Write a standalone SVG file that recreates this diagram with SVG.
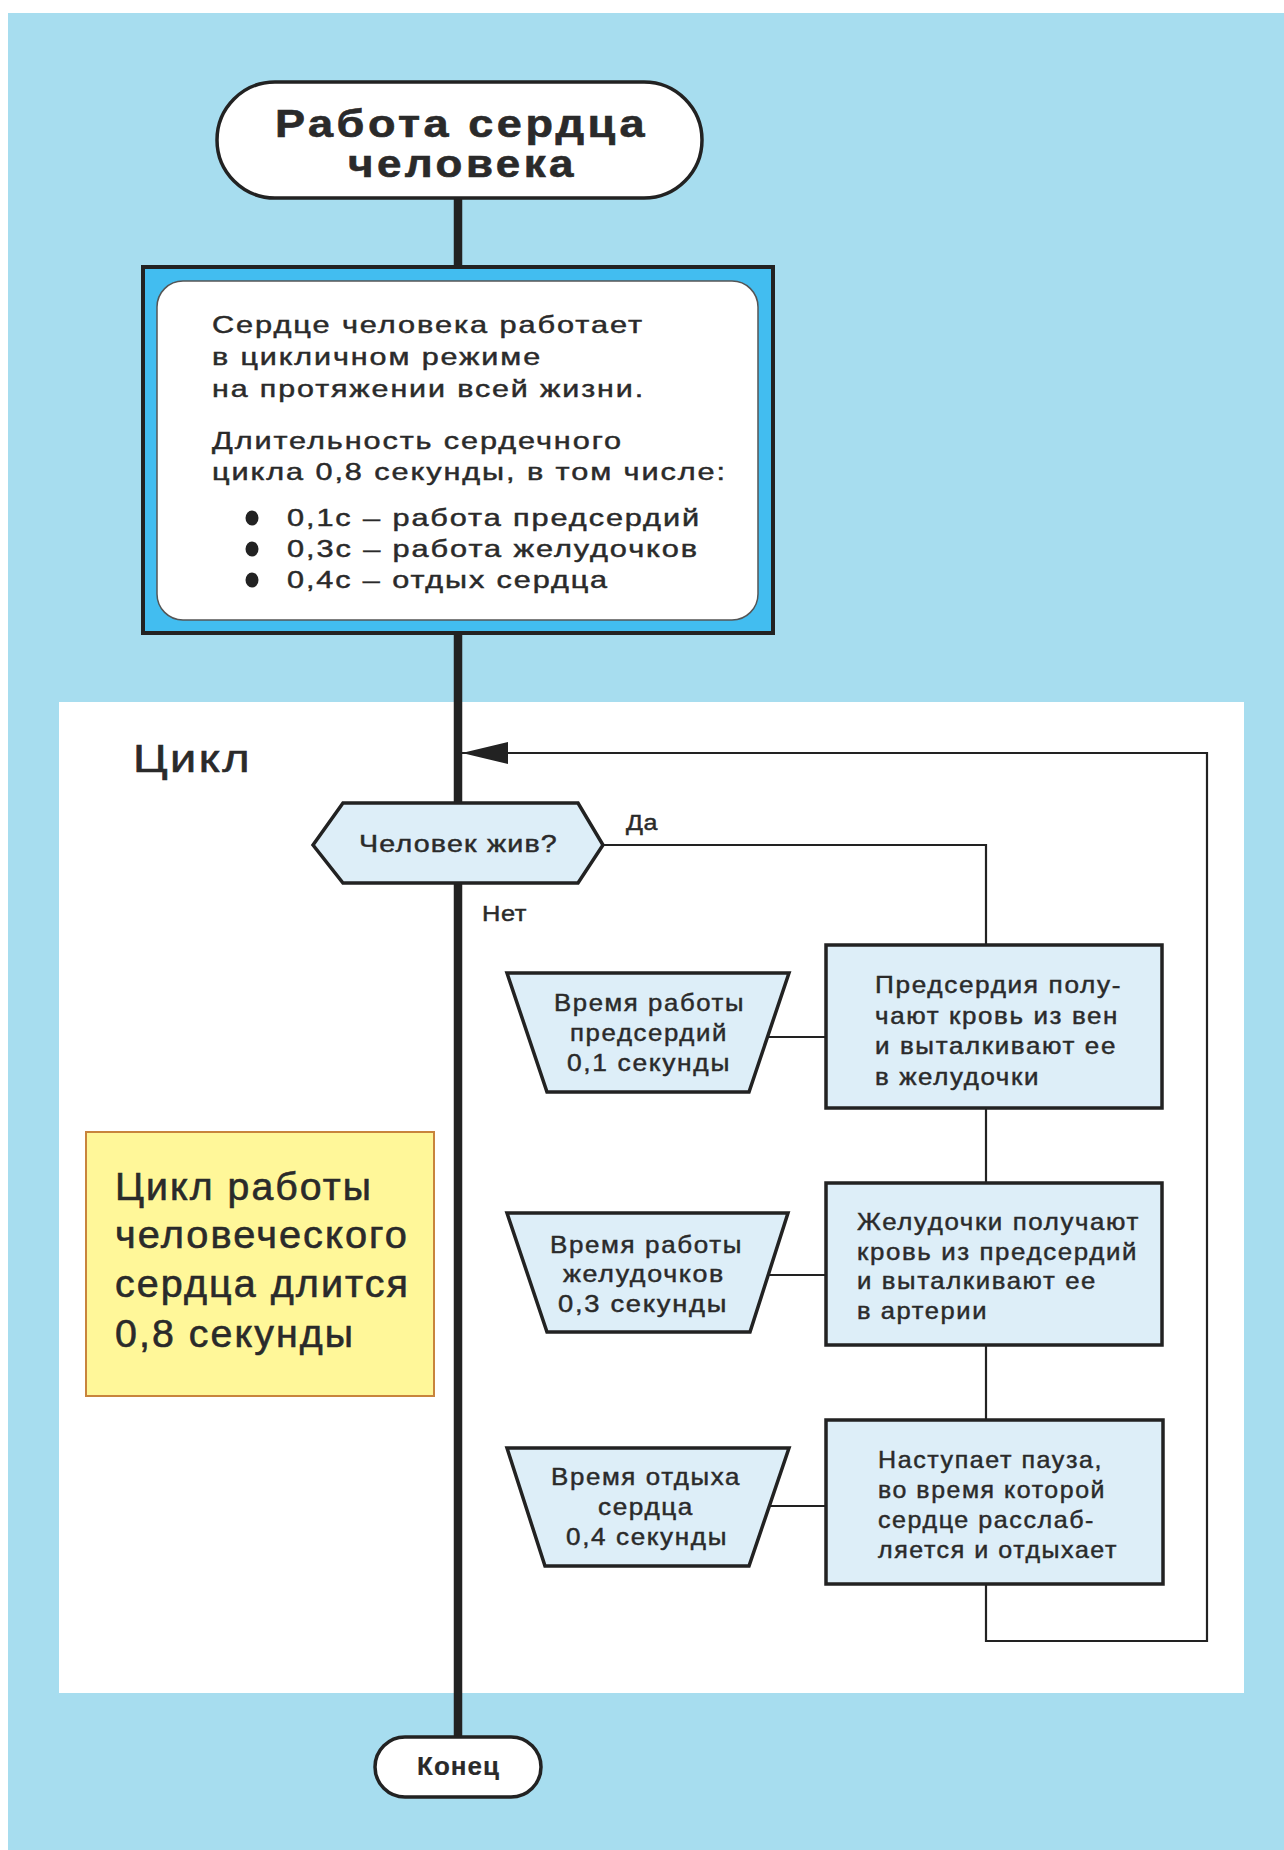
<svg xmlns="http://www.w3.org/2000/svg" width="1284" height="1850" viewBox="0 0 1284 1850">
  <style>
    text { font-family: "Liberation Sans", Arial, sans-serif; fill: #2a2a2a; stroke: #2a2a2a; stroke-width: 0.45px; letter-spacing: 1.5px; }
    .title { font-size: 38px; font-weight: bold; letter-spacing: 3px; stroke-width: 0.6px; }
    .intro { font-size: 24px; }
    .lbl { font-size: 24px; letter-spacing: 1px; }
    .small { font-size: 22px; letter-spacing: 0.5px; }
    .note { font-size: 38px; letter-spacing: 2px; stroke-width: 0.6px; }
    .trap-t { font-size: 24px; }
    .box-t { font-size: 24px; }
    .end-t { font-size: 25px; font-weight: bold; letter-spacing: 1px; stroke-width: 0.2px; }
    .shape { fill: #ddeef8; stroke: #222; stroke-width: 3.5; }
    .pill { fill: #ffffff; stroke: #222; stroke-width: 3.5; }
    .thin { fill: none; stroke: #222; stroke-width: 2.2; }
    .main { fill: none; stroke: #222; stroke-width: 8.5; }
  </style>
  <defs>
    <marker id="arrowhead" markerUnits="userSpaceOnUse" markerWidth="46" markerHeight="22" viewBox="0 0 46 22" refX="46" refY="11" orient="auto">
      <path d="M0,0 L46,11 L0,22 Z" fill="#222"/>
    </marker>
  </defs>

  <!-- page background -->
  <rect x="0" y="0" width="1284" height="1850" fill="#ffffff"/>
  <rect x="8" y="13" width="1276" height="1837" fill="#a7ddef"/>
  <!-- loop panel -->
  <rect x="59" y="702" width="1185" height="991" fill="#ffffff"/>
  <text class="note" x="133" y="772" textLength="119" lengthAdjust="spacingAndGlyphs">Цикл</text>

  <!-- connectors -->
  <g id="connectors">
    <path class="main" d="M458,198 V267"/>
    <path class="main" d="M458,633 V1737"/>
    <path class="thin" d="M603,845 H986 V945"/>
    <path class="thin" d="M986,1108 V1183"/>
    <path class="thin" d="M986,1345 V1420"/>
    <path class="thin" d="M986,1584 V1641 H1207 V753 H462" marker-end="url(#arrowhead)"/>
    <path class="thin" d="M768,1037 H826"/>
    <path class="thin" d="M768,1275 H826"/>
    <path class="thin" d="M768,1506 H826"/>
    <text class="small" x="626" y="830" textLength="32" lengthAdjust="spacingAndGlyphs">Да</text>
    <text class="small" x="482" y="921" textLength="45" lengthAdjust="spacingAndGlyphs">Нет</text>
  </g>

  <!-- start terminator -->
  <g id="start">
    <rect class="pill" x="217" y="82" width="485" height="116" rx="58"/>
    <text class="title" x="275" y="137" textLength="373" lengthAdjust="spacingAndGlyphs">Работа сердца</text>
    <text class="title" x="348" y="177" textLength="229" lengthAdjust="spacingAndGlyphs">человека</text>
  </g>

  <!-- intro block -->
  <g id="intro">
    <rect x="143" y="267" width="630" height="366" fill="#42bdf0" stroke="#222" stroke-width="4"/>
    <rect x="157" y="281" width="601" height="339" rx="26" fill="#ffffff" stroke="#555" stroke-width="1.5"/>
    <text class="intro" x="212" y="333" textLength="432" lengthAdjust="spacingAndGlyphs">Сердце человека работает</text>
    <text class="intro" x="212" y="365" textLength="330" lengthAdjust="spacingAndGlyphs">в цикличном режиме</text>
    <text class="intro" x="212" y="397" textLength="433" lengthAdjust="spacingAndGlyphs">на протяжении всей жизни.</text>
    <text class="intro" x="212" y="449" textLength="411" lengthAdjust="spacingAndGlyphs">Длительность сердечного</text>
    <text class="intro" x="212" y="480" textLength="515" lengthAdjust="spacingAndGlyphs">цикла 0,8 секунды, в том числе:</text>
    <ellipse cx="252" cy="518" rx="6.5" ry="7.5" fill="#222"/>
    <ellipse cx="252" cy="549" rx="6.5" ry="7.5" fill="#222"/>
    <ellipse cx="252" cy="580" rx="6.5" ry="7.5" fill="#222"/>
    <text class="intro" x="287" y="526" textLength="414" lengthAdjust="spacingAndGlyphs">0,1с – работа предсердий</text>
    <text class="intro" x="287" y="557" textLength="412" lengthAdjust="spacingAndGlyphs">0,3с – работа желудочков</text>
    <text class="intro" x="287" y="588" textLength="322" lengthAdjust="spacingAndGlyphs">0,4с – отдых сердца</text>
  </g>

  <!-- decision -->
  <g id="decision">
    <polygon class="shape" points="313,845 343,803 578,803 603,845 578,883 343,883"/>
    <text class="lbl" x="359" y="852" textLength="199" lengthAdjust="spacingAndGlyphs">Человек жив?</text>
  </g>

  <!-- note -->
  <g id="note">
    <rect x="86" y="1132" width="348" height="264" fill="#fff799" stroke="#c8843c" stroke-width="2"/>
    <text class="note" x="115" y="1200" textLength="258" lengthAdjust="spacingAndGlyphs">Цикл работы</text>
    <text class="note" x="115" y="1248" textLength="294" lengthAdjust="spacingAndGlyphs">человеческого</text>
    <text class="note" x="115" y="1297" textLength="295" lengthAdjust="spacingAndGlyphs">сердца длится</text>
    <text class="note" x="115" y="1347" textLength="240" lengthAdjust="spacingAndGlyphs">0,8 секунды</text>
  </g>

  <!-- phase 1 -->
  <g id="time-atria">
    <polygon class="shape" points="507,973 789,973 749,1092 547,1092"/>
    <text class="trap-t" x="554" y="1011" textLength="191" lengthAdjust="spacingAndGlyphs">Время работы</text>
    <text class="trap-t" x="570" y="1041" textLength="158" lengthAdjust="spacingAndGlyphs">предсердий</text>
    <text class="trap-t" x="567" y="1071" textLength="164" lengthAdjust="spacingAndGlyphs">0,1 секунды</text>
  </g>
  <g id="proc-atria">
    <rect class="shape" x="826" y="945" width="336" height="163"/>
    <text class="box-t" x="875" y="993" textLength="247" lengthAdjust="spacingAndGlyphs">Предсердия полу-</text>
    <text class="box-t" x="875" y="1024" textLength="244" lengthAdjust="spacingAndGlyphs">чают кровь из вен</text>
    <text class="box-t" x="875" y="1054" textLength="242" lengthAdjust="spacingAndGlyphs">и выталкивают ее</text>
    <text class="box-t" x="875" y="1085" textLength="165" lengthAdjust="spacingAndGlyphs">в желудочки</text>
  </g>

  <!-- phase 2 -->
  <g id="time-ventricles">
    <polygon class="shape" points="507,1213 788,1213 750,1332 547,1332"/>
    <text class="trap-t" x="550" y="1253" textLength="193" lengthAdjust="spacingAndGlyphs">Время работы</text>
    <text class="trap-t" x="563" y="1282" textLength="162" lengthAdjust="spacingAndGlyphs">желудочков</text>
    <text class="trap-t" x="558" y="1312" textLength="170" lengthAdjust="spacingAndGlyphs">0,3 секунды</text>
  </g>
  <g id="proc-ventricles">
    <rect class="shape" x="826" y="1183" width="336" height="162"/>
    <text class="box-t" x="857" y="1230" textLength="283" lengthAdjust="spacingAndGlyphs">Желудочки получают</text>
    <text class="box-t" x="857" y="1260" textLength="281" lengthAdjust="spacingAndGlyphs">кровь из предсердий</text>
    <text class="box-t" x="857" y="1289" textLength="240" lengthAdjust="spacingAndGlyphs">и выталкивают ее</text>
    <text class="box-t" x="857" y="1319" textLength="131" lengthAdjust="spacingAndGlyphs">в артерии</text>
  </g>

  <!-- phase 3 -->
  <g id="time-rest">
    <polygon class="shape" points="507,1448 789,1448 749,1566 545,1566"/>
    <text class="trap-t" x="551" y="1485" textLength="190" lengthAdjust="spacingAndGlyphs">Время отдыха</text>
    <text class="trap-t" x="598" y="1515" textLength="96" lengthAdjust="spacingAndGlyphs">сердца</text>
    <text class="trap-t" x="566" y="1545" textLength="162" lengthAdjust="spacingAndGlyphs">0,4 секунды</text>
  </g>
  <g id="proc-rest">
    <rect class="shape" x="826" y="1420" width="337" height="164"/>
    <text class="box-t" x="878" y="1468" textLength="225" lengthAdjust="spacingAndGlyphs">Наступает пауза,</text>
    <text class="box-t" x="878" y="1498" textLength="228" lengthAdjust="spacingAndGlyphs">во время которой</text>
    <text class="box-t" x="878" y="1528" textLength="217" lengthAdjust="spacingAndGlyphs">сердце расслаб-</text>
    <text class="box-t" x="878" y="1558" textLength="240" lengthAdjust="spacingAndGlyphs">ляется и отдыхает</text>
  </g>

  <!-- end terminator -->
  <g id="end">
    <rect class="pill" x="375" y="1737" width="166" height="60" rx="30"/>
    <text class="end-t" x="417" y="1775" textLength="83" lengthAdjust="spacingAndGlyphs">Конец</text>
  </g>
</svg>
